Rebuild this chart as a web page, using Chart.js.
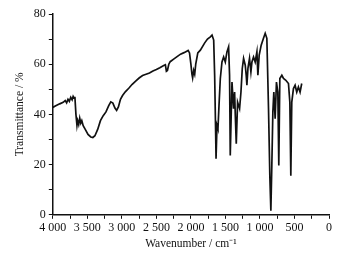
<!DOCTYPE html>
<html>
<head>
<meta charset="utf-8">
<script src="https://cdn.jsdelivr.net/npm/chart.js@4"></script>
<style>
  html, body { margin: 0; padding: 0; background: #fff; }
  #wrap { width: 339px; height: 254px; }
</style>
</head>
<body>
<div id="wrap"><canvas id="irSpectrum" width="339" height="254"></canvas></div>
<script>
// IR spectrum, values
var wavenumbers = [4000, 3950, 3900, 3850, 3820, 3800, 3780, 3760, 3740, 3720, 3705, 3690, 3680,
  3665, 3650, 3640, 3625, 3610, 3595, 3580, 3560, 3530, 3490, 3450, 3420, 3390, 3350, 3310, 3270,
  3230, 3190, 3160, 3130, 3100, 3076, 3050, 3020, 2990, 2950, 2900, 2850, 2800, 2750, 2700, 2650,
  2600, 2550, 2500, 2450, 2400, 2370, 2355, 2340, 2320, 2300, 2250, 2200, 2150, 2100, 2060, 2040,
  2020, 2000, 1985, 1975, 1960, 1945, 1930, 1900, 1863, 1800, 1760, 1718, 1694, 1670, 1656, 1641,
  1636, 1622, 1608, 1593, 1574, 1550, 1526, 1502, 1478, 1454, 1440, 1430, 1405, 1382, 1367, 1357,
  1343, 1324, 1295, 1275, 1256, 1237, 1213, 1199, 1189, 1174, 1151, 1131, 1116, 1093, 1069, 1044,
  1030, 1011, 982, 949, 924, 900, 876, 857, 842, 828, 813, 799, 780, 761, 741, 727, 712, 683, 659,
  625, 587, 567, 553, 539, 515, 491, 467, 443, 419, 395];
var transmittance = [42.8, 43.5, 44.2, 44.8, 45.5, 44.6, 46, 45.2, 46.8, 45.8, 47.2, 46.5, 47,
  40, 35.6, 37.5, 36, 38.5, 36.5, 37.5, 35.5, 34, 32, 31, 30.8, 31.5, 34, 37.5, 39.5,
  41, 43.5, 45, 44.5, 42.5, 41.6, 43, 46, 47.5, 49, 50.4, 52, 53.3, 54.5, 55.5, 56,
  56.5, 57.3, 57.9, 58.6, 59.4, 59.8, 57.2, 57.5, 60, 61, 62, 63, 64, 64.6, 65.2, 65.5,
  64.5, 60, 56, 54.5, 57.5, 56, 60, 64.5, 65.6, 68.5, 70, 70.9, 71.6, 69.6, 55.6, 31.6,
  22.3, 35.6, 34.3, 43.6, 54.3, 60.9, 62.9, 60.9, 64.9, 66.9, 55.6, 23.6, 52.9, 42.3, 48.9, 39.6,
  28.3, 44.9, 42.3, 48.9, 58.3, 62.3, 59.6, 55.6, 51.6, 58.3, 62.3, 56.9, 60.9, 62.9, 60.9, 64.9,
  55.6, 63.6, 67.6, 70.3, 72.3, 70.3, 42.3, 15.6, 1.6, 19.6, 41, 48.9, 38.3, 52.9, 48.9, 19.6, 54.3, 55.6, 54.3,
  53.6, 52.3, 44.9, 15.6, 44.9, 50.3, 51.6, 48.9, 50.9, 48.9, 52.3];

var xTickLabels = [0, 500, 1000, 1500, 2000, 2500, 3000, 3500, 4000];
var yTickLabels = [0, 20, 40, 60, 80];

var points = wavenumbers.map(function (w, i) { return {x: w, y: transmittance[i]}; });

function spaced(v) {
  return v >= 1000 ? Math.floor(v / 1000) + ' ' + String(v % 1000).padStart(3, '0') : String(v);
}

var serif = {family: '"Liberation Serif", "Times New Roman", serif', size: 12};
var serifTitle = {family: '"Liberation Serif", "Times New Roman", serif', size: 11.5};

var ctx = document.getElementById('irSpectrum');
new Chart(ctx, {
    type: 'line',
    data: {
    datasets: [{
        data: points,
        borderColor: '#111',
        borderWidth: 1.7,
        pointRadius: 0,
        tension: 0
    }]
    },
    options: {
    responsive: false,
    animation: false,
    layout: {padding: {left: 13, right: 10, top: 14, bottom: 3}},
    plugins: {
        legend: {display: false},
        tooltip: {enabled: false}
    },
    scales: {
        x: {
        type: 'linear',
        reverse: true,
        min: 0,
        max: 4000,
        border: {color: '#111', width: 1.5},
        grid: {drawOnChartArea: false, color: '#111', tickLength: 4, lineWidth: 1},
        ticks: {
            stepSize: 250,
            color: '#111',
            font: serif,
            padding: 2,
            maxRotation: 0,
            autoSkip: false,
            callback: function (v) { return xTickLabels.indexOf(v) >= 0 ? spaced(v) : ''; }
        },
        title: {display: true, text: 'Wavenumber / cm\u207B\u00B9', color: '#111', font: serifTitle, padding: {top: 0, bottom: 0}}
        },
        y: {
        min: 0,
        max: 80,
        border: {color: '#111', width: 1.5},
        grid: {drawOnChartArea: false, color: '#111', tickLength: 4, lineWidth: 1},
        ticks: {
            stepSize: 10,
            color: '#111',
            font: serif,
            padding: 3,
            autoSkip: false,
            callback: function (v) { return yTickLabels.indexOf(v) >= 0 ? String(v) : ''; }
        },
        title: {display: true, text: 'Transmittance / %', color: '#111', font: serifTitle, padding: {top: 0, bottom: 4}}
        }
    }
    }
});
</script>
</body>
</html>
